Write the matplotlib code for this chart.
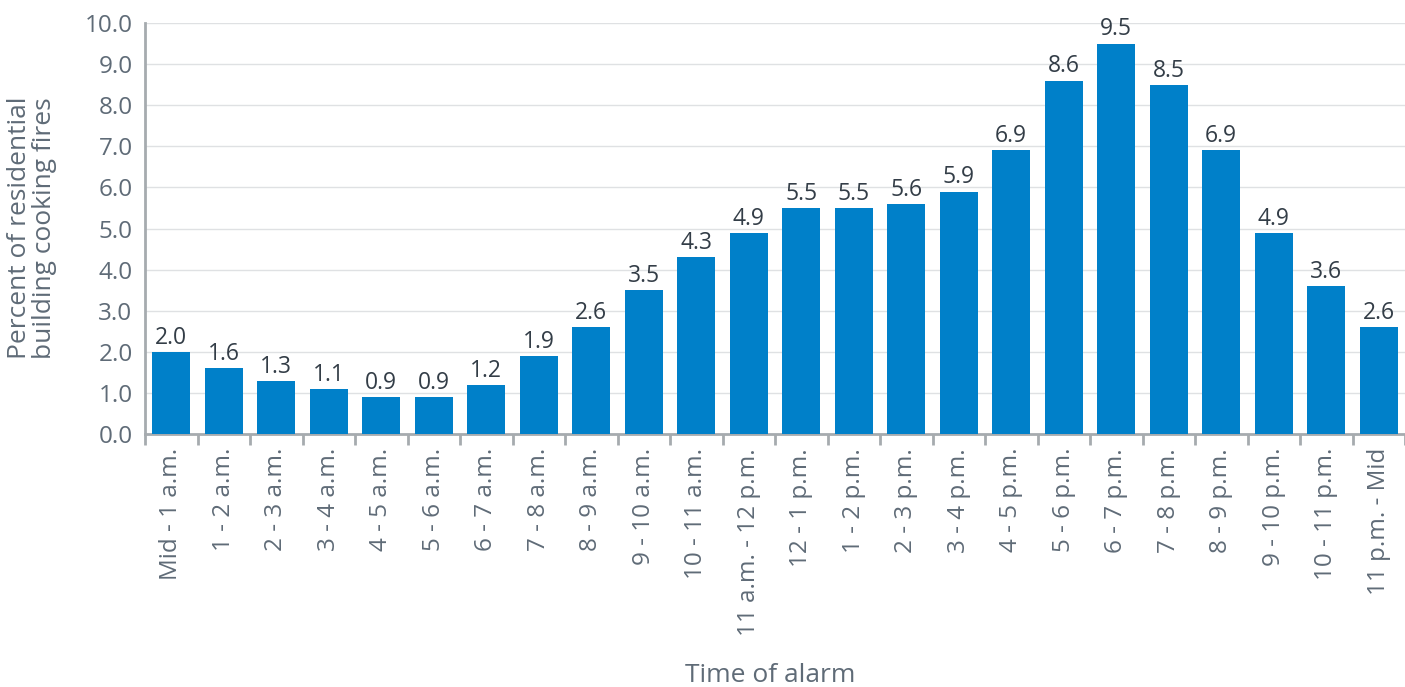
import matplotlib
matplotlib.use("Agg")
import matplotlib.pyplot as plt
import numpy as np

categories = ["Mid - 1 a.m.", "1 - 2 a.m.", "2 - 3 a.m.", "3 - 4 a.m.", "4 - 5 a.m.",
              "5 - 6 a.m.", "6 - 7 a.m.", "7 - 8 a.m.", "8 - 9 a.m.", "9 - 10 a.m.",
              "10 - 11 a.m.", "11 a.m. - 12 p.m.", "12 - 1 p.m.", "1 - 2 p.m.", "2 - 3 p.m.",
              "3 - 4 p.m.", "4 - 5 p.m.", "5 - 6 p.m.", "6 - 7 p.m.", "7 - 8 p.m.",
              "8 - 9 p.m.", "9 - 10 p.m.", "10 - 11 p.m.", "11 p.m. - Mid"]
values = [2.0, 1.6, 1.3, 1.1, 0.9, 0.9, 1.2, 1.9, 2.6, 3.5, 4.3, 4.9, 5.5, 5.5, 5.6,
          5.9, 6.9, 8.6, 9.5, 8.5, 6.9, 4.9, 3.6, 2.6]
yticks = [0, 1, 2, 3, 4, 5, 6, 7, 8, 9, 10]

plt.rcParams['font.family'] = ['Open Sans', 'DejaVu Sans']
text_color = '#5f6b77'
bar_color = '#0080c9'

fig = plt.figure(figsize=(14.05, 6.87), dpi=100)
ax = fig.add_axes([145/1405, 1 - 434/687, (1405 - 145)/1405, (434 - 23)/687])

x = np.arange(len(categories))
ax.bar(x, values, width=0.72, color=bar_color, zorder=3)
for xi, v in zip(x, values):
    ax.text(xi, v + 0.05, f"{v:.1f}", ha='center', va='bottom', fontsize=16.5, color='#333d47', zorder=4)

ax.set_xlim(-0.5, len(categories) - 0.5)
ax.set_ylim(0, 10)
ax.set_yticks(yticks)
ax.set_yticklabels([f"{t:.1f}" for t in yticks], fontsize=17.5, color=text_color)
ax.tick_params(axis='y', length=0, pad=9)

ax.set_xticks(x)
ax.set_xticklabels(categories, rotation=90, fontsize=17.5, color=text_color, va='top', ha='center')
ax.set_xticks(np.arange(len(categories) + 1) - 0.5, minor=True)
ax.tick_params(axis='x', which='major', length=0, pad=10)
ax.tick_params(axis='x', which='minor', length=8, width=2, color='#a6abaf')

ax.grid(axis='y', color='#dfe1e3', linewidth=1, zorder=0)
for s in ['top', 'right']:
    ax.spines[s].set_visible(False)
for s in ['left', 'bottom']:
    ax.spines[s].set_color('#a6abaf')
    ax.spines[s].set_linewidth(2)

fig.text(32/1405, 1 - 228/687, "Percent of residential\nbuilding cooking fires", rotation=90,
         ha='center', va='center', fontsize=19, color=text_color, linespacing=1.05)
fig.text(770/1405, 1 - 676/687, "Time of alarm", ha='center', va='center', fontsize=19, color=text_color)

fig.savefig("out.png", dpi=100)
